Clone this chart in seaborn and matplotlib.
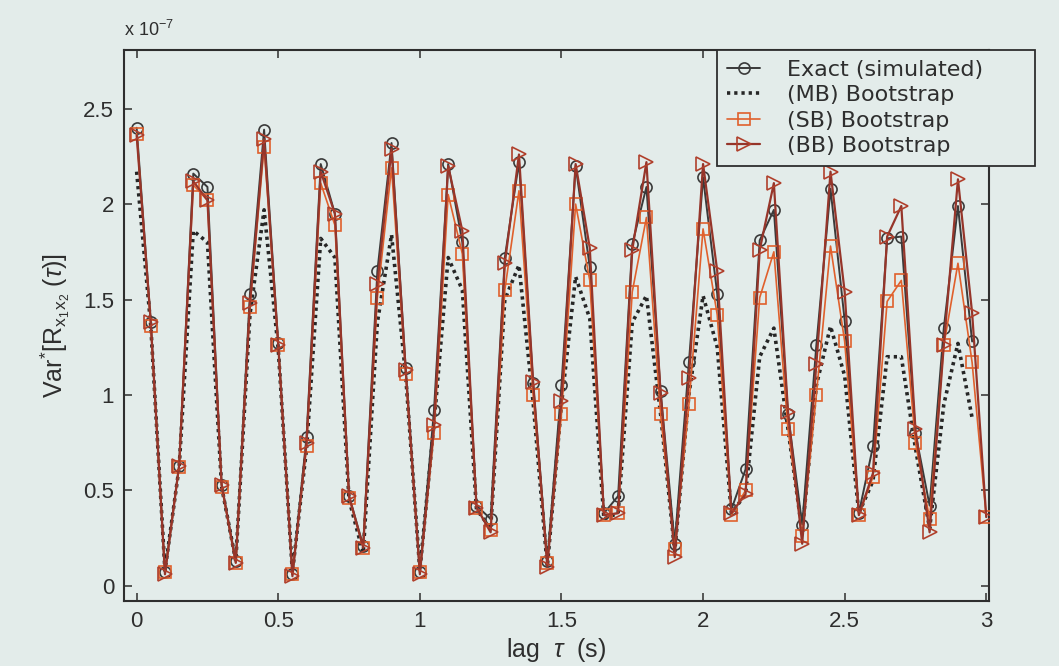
import numpy as np
import pandas as pd
import seaborn as sns
import matplotlib
matplotlib.use("Agg")
import matplotlib.pyplot as plt

# Lag axis (s)
lag_full = [round(0.05 * i, 2) for i in range(61)]
lag_exact = lag_full[:60]

# Variance estimates, in units of 1e-7
exact_sim = [2.40, 1.38, 0.07, 0.63, 2.16, 2.09, 0.53, 0.13, 1.53, 2.39,
             1.27, 0.06, 0.78, 2.21, 1.95, 0.47, 0.21, 1.65, 2.32, 1.14,
             0.07, 0.92, 2.21, 1.80, 0.42, 0.35, 1.72, 2.22, 1.06, 0.13,
             1.05, 2.20, 1.67, 0.38, 0.47, 1.79, 2.09, 1.02, 0.22, 1.17,
             2.14, 1.53, 0.40, 0.61, 1.81, 1.97, 0.90, 0.32, 1.26, 2.08,
             1.39, 0.38, 0.73, 1.82, 1.83, 0.80, 0.42, 1.35, 1.99, 1.28]

mb_boot = [2.17, 1.36, 0.08, 0.62, 1.86, 1.80, 0.52, 0.13, 1.42, 1.97,
           1.24, 0.07, 0.72, 1.82, 1.72, 0.45, 0.17, 1.38, 1.84, 1.10,
           0.08, 0.85, 1.72, 1.55, 0.40, 0.30, 1.50, 1.68, 0.96, 0.10,
           0.95, 1.62, 1.40, 0.35, 0.38, 1.38, 1.52, 0.90, 0.18, 1.00,
           1.52, 1.25, 0.38, 0.48, 1.20, 1.35, 0.82, 0.28, 1.05, 1.36,
           1.10, 0.38, 0.55, 1.20, 1.20, 0.72, 0.30, 0.95, 1.27, 0.88]

sb_boot = [2.37, 1.36, 0.07, 0.62, 2.10, 2.02, 0.52, 0.12, 1.46, 2.30,
           1.26, 0.06, 0.73, 2.11, 1.89, 0.46, 0.20, 1.51, 2.19, 1.11,
           0.07, 0.80, 2.05, 1.74, 0.41, 0.29, 1.55, 2.07, 1.00, 0.12,
           0.90, 2.00, 1.60, 0.37, 0.38, 1.54, 1.93, 0.90, 0.19, 0.95,
           1.87, 1.42, 0.37, 0.50, 1.51, 1.75, 0.82, 0.26, 1.00, 1.78,
           1.28, 0.37, 0.57, 1.49, 1.60, 0.75, 0.35, 1.26, 1.69, 1.17,
           0.36]

bb_boot = [2.36, 1.38, 0.06, 0.63, 2.12, 2.02, 0.53, 0.12, 1.48, 2.34,
           1.26, 0.05, 0.75, 2.17, 1.95, 0.47, 0.20, 1.58, 2.29, 1.13,
           0.06, 0.84, 2.20, 1.86, 0.41, 0.28, 1.69, 2.26, 1.07, 0.10,
           0.97, 2.21, 1.77, 0.37, 0.38, 1.76, 2.22, 1.01, 0.15, 1.09,
           2.21, 1.65, 0.38, 0.48, 1.76, 2.11, 0.91, 0.22, 1.16, 2.17,
           1.54, 0.37, 0.59, 1.83, 1.99, 0.82, 0.28, 1.26, 2.13, 1.43,
           0.36]

labels = ["Exact (simulated)", "(MB) Bootstrap", "(SB) Bootstrap", "(BB) Bootstrap"]

bg = "#e3ecea"
ink = "#2e2e2e"
sns.set_theme(style="ticks")
plt.rcParams["font.family"] = ["Liberation Sans", "DejaVu Sans"]
plt.rcParams["mathtext.fontset"] = "custom"
plt.rcParams["mathtext.rm"] = "Liberation Sans"
plt.rcParams["mathtext.it"] = "Liberation Sans:italic"

fig = plt.figure(figsize=(10.59, 6.66), dpi=100, facecolor=bg)
ax = fig.add_axes([0.117, 0.0976, 0.817, 0.828], facecolor=bg)

ms = 8
sns.lineplot(x=lag_exact, y=exact_sim, ax=ax, color="#3a3a3a", lw=1.4,
             marker="o", markersize=ms, fillstyle="none", mew=1.2,
             mec="#3a3a3a", label=labels[0], zorder=3)
sns.lineplot(x=lag_exact, y=mb_boot, ax=ax, color="#262626", lw=2.6,
             linestyle=(0, (0.9, 1.1)), label=labels[1], zorder=2)
sns.lineplot(x=lag_full, y=sb_boot, ax=ax, color="#e0602c", lw=1.2,
             marker="s", markersize=ms, fillstyle="none", mew=1.2,
             mec="#e0602c", label=labels[2], zorder=4)
sns.lineplot(x=lag_full, y=bb_boot, ax=ax, color="#96352a", lw=1.6,
             marker=">", markersize=ms + 1.5, fillstyle="none", mew=1.2,
             mec="#b0402c", label=labels[3], zorder=5)

ax.set_xlim(-0.045, 3.01)
ax.set_ylim(-0.08, 2.81)
ax.set_xticks(np.arange(0, 3.01, 0.5))
ax.set_xticklabels(["0", "0.5", "1", "1.5", "2", "2.5", "3"])
ax.set_yticks(np.arange(0, 2.51, 0.5))
ax.set_yticklabels(["0", "0.5", "1", "1.5", "2", "2.5"])
ax.tick_params(direction="in", length=6, width=1.1, labelsize=16,
               top=True, right=True, colors=ink, labelcolor=ink, pad=7)
for s in ax.spines.values():
    s.set_linewidth(1.5)
    s.set_color(ink)

ax.set_xlabel(r"lag  $\tau$  (s)", fontsize=18, color=ink, labelpad=3)
ax.set_ylabel(r"Var$^{*}$[R$_{\mathrm{x_1x_2}}$ ($\tau$)]", fontsize=18,
              color=ink, labelpad=8)
ax.text(0.0, 1.018, r"x 10$^{-7}$", transform=ax.transAxes, fontsize=13,
        color=ink, ha="left", va="bottom")

# Legend box spans from inside the axes out past the right spine
leg = ax.legend(loc="upper left", bbox_to_anchor=(0.6855, 0.0, 0.3677, 1.0),
                mode="expand", borderaxespad=0, fancybox=False, framealpha=1,
                facecolor=bg, edgecolor=ink,
                prop={"family": "DejaVu Sans", "size": 16},
                handlelength=1.5, handletextpad=1.2, labelspacing=0.25,
                borderpad=0.45)
leg.get_frame().set_linewidth(1.3)
for t in leg.get_texts():
    t.set_color(ink)

fig.savefig("out.png", dpi=100, facecolor=bg)
